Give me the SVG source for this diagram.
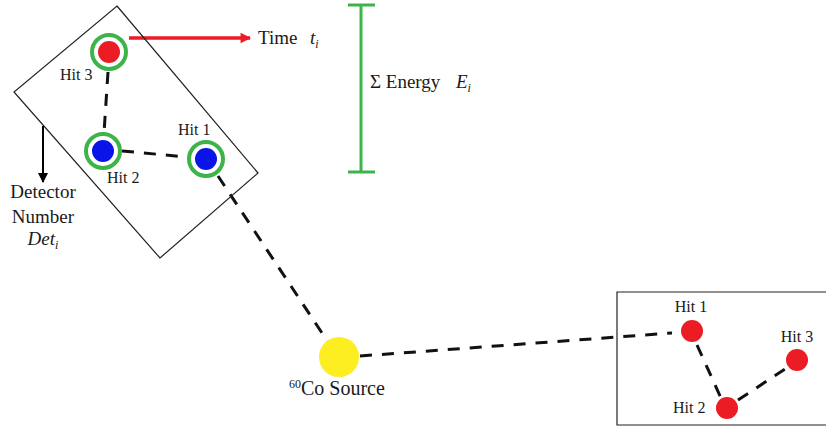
<svg xmlns="http://www.w3.org/2000/svg" width="827" height="429" viewBox="0 0 827 429">
<defs>
<style>
text{font-family:"Liberation Serif","Times New Roman",serif;fill:#1a1a1a}
.lbl{font-size:16px}
.big{font-size:19px}
.box{fill:none;stroke:#222;stroke-width:1.2}
.dash{fill:none;stroke:#111;stroke-width:3;stroke-dasharray:12 10}
.ring{fill:#fff;stroke:#3cb44a;stroke-width:4}
.red{fill:#ec1c24}
.blue{fill:#0a14e8}
</style>
<marker id="ar" viewBox="0 0 10 10" refX="9" refY="5" markerWidth="3.6" markerHeight="3" orient="auto" markerUnits="strokeWidth"><path d="M0,0 L10,5 L0,10 z" fill="#ec1c24"/></marker>
<marker id="ab" viewBox="0 0 10 10" refX="9" refY="5" markerWidth="5" markerHeight="5" orient="auto" markerUnits="strokeWidth"><path d="M0,0 L10,5 L0,10 z" fill="#000"/></marker>
</defs>
<g id="connectors">
<line class="dash" x1="108" y1="72" x2="104" y2="133"/>
<line class="dash" x1="122" y1="151" x2="187" y2="157"/>
<line class="dash" x1="218" y1="176" x2="328" y2="342"/>
<line class="dash" x1="360" y1="356" x2="672" y2="333"/>
<line class="dash" x1="697" y1="345" x2="721" y2="398"/>
<line class="dash" x1="738" y1="400" x2="785" y2="369"/>
<line x1="129" y1="38" x2="250" y2="38" stroke="#ec1c24" stroke-width="3.5" marker-end="url(#ar)"/>
<line x1="43" y1="126" x2="43" y2="182" stroke="#000" stroke-width="2" marker-end="url(#ab)"/>
</g>
<g id="detector-left">
<polygon class="box" points="117,6 258,173 160,258 14,92"/>
</g>
<g id="detector-right">
<polyline class="box" points="826,292 617,292 617,425 826,425"/>
</g>
<g id="hit3-left">
<circle class="ring" cx="109" cy="52" r="17"/>
<circle class="red" cx="109" cy="52" r="11"/>
<text class="lbl" x="60" y="80">Hit 3</text>
</g>
<g id="hit2-left">
<circle class="ring" cx="103" cy="151" r="17"/>
<circle class="blue" cx="103" cy="151" r="11"/>
<text class="lbl" x="107" y="183">Hit 2</text>
</g>
<g id="hit1-left">
<circle class="ring" cx="206" cy="159" r="17"/>
<circle class="blue" cx="206" cy="159" r="11"/>
<text class="lbl" x="178" y="135">Hit 1</text>
</g>
<g id="time-label">
<text class="big" x="258" y="44">Time <tspan x="310" font-style="italic">t</tspan><tspan font-style="italic" font-size="12" dy="4">i</tspan></text>
</g>
<g id="energy-bar">
<line x1="361" y1="5" x2="361" y2="172" stroke="#3cb44a" stroke-width="3"/>
<line x1="348" y1="5" x2="375" y2="5" stroke="#3cb44a" stroke-width="3"/>
<line x1="348" y1="172" x2="375" y2="172" stroke="#3cb44a" stroke-width="3"/>
<text class="big" x="370" y="88">Σ Energy <tspan x="456" font-style="italic">E</tspan><tspan font-style="italic" font-size="12" dy="4">i</tspan></text>
</g>
<g id="detector-label">
<text class="big" x="43" y="198" text-anchor="middle">Detector</text>
<text class="big" x="43" y="223" text-anchor="middle">Number</text>
<text class="big" x="43" y="245" text-anchor="middle" font-style="italic">Det<tspan font-size="12" dy="4">i</tspan></text>
</g>
<g id="source">
<circle cx="339" cy="357" r="20" fill="#fcee21"/>
<text x="289" y="395" font-size="20"><tspan font-size="12" dy="-7">60</tspan><tspan dy="7">Co Source</tspan></text>
</g>
<g id="hit1-right">
<circle class="red" cx="692" cy="331" r="11"/>
<text class="lbl" x="691" y="312" text-anchor="middle">Hit 1</text>
</g>
<g id="hit2-right">
<circle class="red" cx="727" cy="408" r="11"/>
<text class="lbl" x="673" y="413">Hit 2</text>
</g>
<g id="hit3-right">
<circle class="red" cx="797" cy="360" r="11"/>
<text class="lbl" x="797" y="342" text-anchor="middle">Hit 3</text>
</g>
</svg>
